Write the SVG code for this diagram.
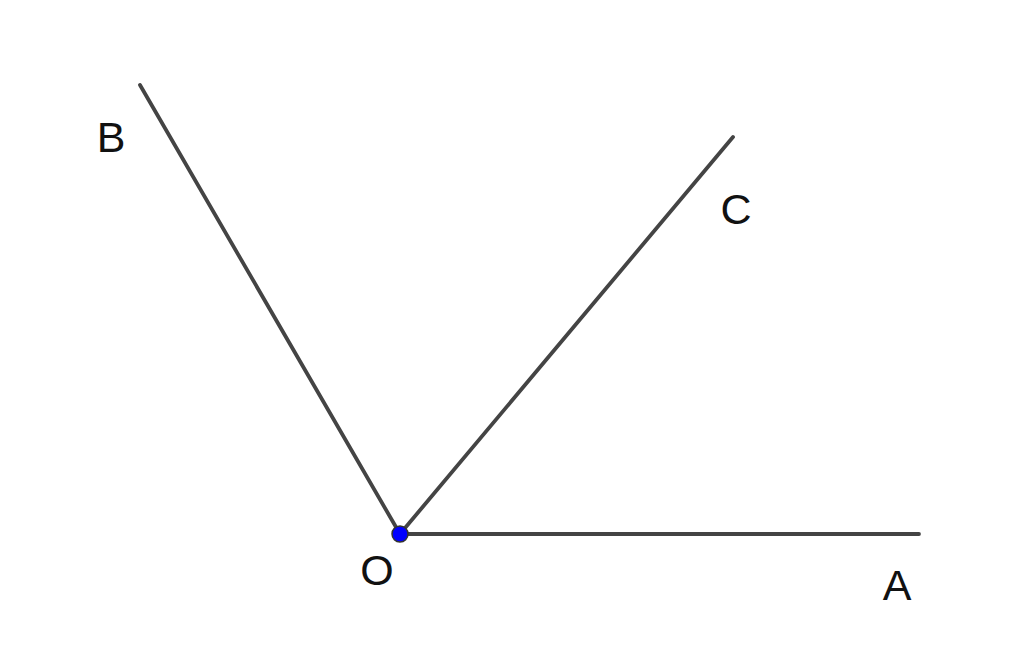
<svg xmlns="http://www.w3.org/2000/svg" width="1024" height="659" viewBox="0 0 1024 659">
<style>
.ray{stroke:#444;stroke-width:3.8;stroke-linecap:round;fill:none}
.lbl{font-family:"Liberation Sans",Arial,sans-serif;font-size:43px;fill:#111;text-anchor:middle}
</style>
<rect width="1024" height="659" fill="#fff"/>
<g id="connectors">
<line class="ray" x1="400" y1="534" x2="140" y2="85"/>
<line class="ray" x1="400" y1="534" x2="733" y2="137"/>
<line class="ray" x1="400" y1="534" x2="919" y2="534"/>
</g>
<g id="O">
<circle cx="400" cy="534" r="8" fill="#0000ff" stroke="#333" stroke-width="1.5"/>
<text class="lbl" x="377" y="585">O</text>
</g>
<g id="A"><text class="lbl" x="897" y="600">A</text></g>
<g id="B"><text class="lbl" x="111" y="152">B</text></g>
<g id="C"><text class="lbl" x="736" y="224">C</text></g>
</svg>
